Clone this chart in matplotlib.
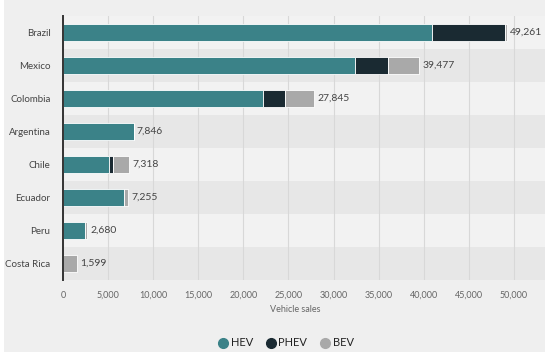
import matplotlib.pyplot as plt
import numpy as np
from matplotlib.patches import Rectangle
from matplotlib.lines import Line2D

plt.rcParams['font.family'] = ['Lato', 'DejaVu Sans']

countries = ['Brazil', 'Mexico', 'Colombia', 'Argentina', 'Chile', 'Ecuador', 'Peru', 'Costa Rica']
hev = [40900, 32400, 22200, 7846, 5100, 6750, 2450, 0]
phev = [8150, 3600, 2450, 0, 450, 0, 0, 0]
bev = [211, 3477, 3195, 0, 1768, 505, 230, 1599]
totals = [49261, 39477, 27845, 7846, 7318, 7255, 2680, 1599]
series = ['HEV', 'PHEV', 'BEV']
colors = ['#3b8288', '#1a2a32', '#a9a9a9']

W, H = 550, 358
fig = plt.figure(figsize=(W / 100, H / 100), dpi=100, facecolor='white')
fig.patches.append(Rectangle((4 / W, 6 / H), 541 / W, 1 - 6 / H, transform=fig.transFigure,
                             facecolor='#efefef', edgecolor='none', zorder=-10))

ax = fig.add_axes([63 / W, (H - 280) / H, (559 - 63) / W, 264 / H])
ax.set_facecolor('none')

y = np.arange(len(countries))
for i in y:
    band = '#f2f2f2' if i % 2 == 0 else '#e7e7e7'
    ax.axhspan(i - 0.5, i + 0.5, color=band, zorder=0, lw=0)

# white margin on the right edge, as in the source image
ax.add_patch(Rectangle((545 / W, 0), 5 / W, 1, transform=fig.transFigure, clip_on=False,
                       facecolor='white', edgecolor='none', zorder=2))

left = np.zeros(len(countries))
for name, vals, c in zip(series, [hev, phev, bev], colors):
    vals = np.array(vals, dtype=float)
    ax.barh(y, vals, left=left, height=0.52, color=c, edgecolor='white', linewidth=0.6,
            zorder=3, label=name)
    left += vals

for i, t in enumerate(totals):
    ax.text(t + 350, i, f'{t:,}', va='center', ha='left', fontsize=7.5, color='#444444', zorder=4)

ax.set_xlim(0, 55000)
ax.set_ylim(len(countries) - 0.5, -0.5)
ax.set_yticks(y)
ax.set_yticklabels(countries, fontsize=7, color='#444444')
ticks = np.arange(0, 55001, 5000)
ax.set_xticks(ticks)
ax.set_xticklabels([f'{t:,}' for t in ticks], fontsize=6.5, color='#666666')
ax.tick_params(axis='both', length=0)
ax.tick_params(axis='y', pad=9)
ax.tick_params(axis='x', pad=8)
ax.grid(axis='x', color='#d8d8d8', linewidth=0.8, zorder=1)
ax.set_axisbelow(True)
for s in ['top', 'right', 'bottom']:
    ax.spines[s].set_visible(False)
ax.spines['left'].set_color('#333333')
ax.spines['left'].set_linewidth(1.4)
ax.spines['left'].set_zorder(5)

fig.text(295 / W, 1 - 309 / H, 'Vehicle sales', ha='center', va='center', fontsize=6.5, color='#666666')

handles = [Line2D([], [], marker='o', linestyle='none', markersize=7, markerfacecolor=c,
                  markeredgecolor=c) for c in colors]
fig.legend(handles, series, loc='center', bbox_to_anchor=(285 / W, 1 - 343 / H), ncol=3,
           frameon=False, fontsize=8, labelcolor='#222222', handletextpad=0.1,
           columnspacing=1.0, handlelength=1.2)

fig.savefig('out.png', dpi=100, facecolor='white')
